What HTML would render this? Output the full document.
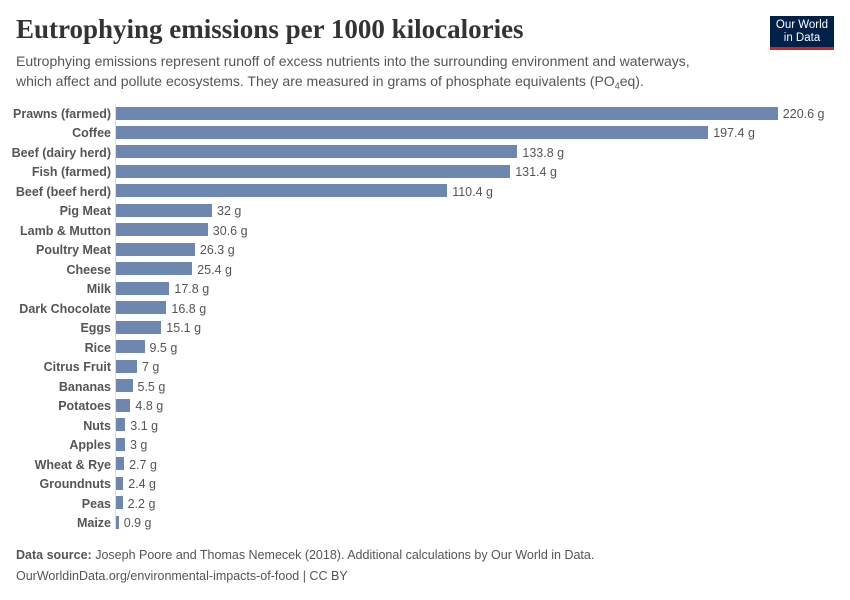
<!DOCTYPE html>
<html><head><meta charset="utf-8"><style>
body{margin:0;width:850px;height:600px;background:#fff;font-family:"Liberation Sans",sans-serif;position:relative;overflow:hidden}
.t{position:absolute;white-space:nowrap}
.lab{position:absolute;right:739px;font-size:12.5px;font-weight:bold;color:#555;text-align:right;white-space:nowrap}
.bar{position:absolute;left:116px;height:13px;background:#6e87b1}
.val{position:absolute;font-size:12.5px;color:#555;white-space:nowrap}
</style></head><body>
<div class="t" style="left:16px;top:14px;font-family:'Liberation Serif',serif;font-size:27px;font-weight:bold;color:#333">Eutrophying emissions per 1000 kilocalories</div>
<div class="t" style="left:16px;top:51px;font-size:14px;color:#555;line-height:20px">Eutrophying emissions represent runoff of excess nutrients into the surrounding environment and waterways,<br>which affect and pollute ecosystems. They are measured in grams of phosphate equivalents (PO<span style="font-size:9px;position:relative;top:3px;line-height:0">4</span>eq).</div>
<div style="position:absolute;left:770px;top:16px;width:64px;height:34px;background:#002147;border-bottom:3px solid #ce261e;color:#fff;font-size:11.5px;text-align:center;line-height:13px;padding-top:3px;box-sizing:border-box">Our World<br>in Data</div>
<div style="position:absolute;left:115px;top:104px;width:1px;height:426px;background:#ddd"></div>
<div id="c"></div>
<div class="t" style="left:16px;top:548px;font-size:12.5px;color:#555"><b>Data source:</b> Joseph Poore and Thomas Nemecek (2018). Additional calculations by Our World in Data.</div>
<div class="t" style="left:16px;top:569px;font-size:12.5px;color:#555">OurWorldinData.org/environmental-impacts-of-food | CC BY</div>
<script>
var d=[["Prawns (farmed)",220.6],["Coffee",197.4],["Beef (dairy herd)",133.8],["Fish (farmed)",131.4],["Beef (beef herd)",110.4],["Pig Meat",32],["Lamb & Mutton",30.6],["Poultry Meat",26.3],["Cheese",25.4],["Milk",17.8],["Dark Chocolate",16.8],["Eggs",15.1],["Rice",9.5],["Citrus Fruit",7],["Bananas",5.5],["Potatoes",4.8],["Nuts",3.1],["Apples",3],["Wheat & Rye",2.7],["Groundnuts",2.4],["Peas",2.2],["Maize",0.9]];
var h="";d.forEach(function(r,i){var y=113+i*19.48;var w=r[1]*3.0;
h+='<div class="lab" style="top:'+(y-6)+'px">'+r[0].replace("&","&amp;")+'</div><div class="bar" style="top:'+(y-6.5)+'px;width:'+w+'px"></div><div class="val" style="top:'+(y-6)+'px;left:'+(116+w+5)+'px">'+r[1]+' g</div>';});
document.getElementById("c").innerHTML=h;
</script>
</body></html>
